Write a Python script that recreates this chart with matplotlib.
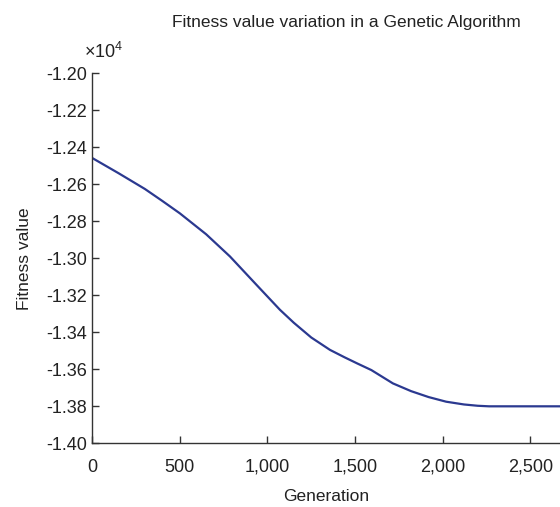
import numpy as np
import matplotlib
matplotlib.use("Agg")
import matplotlib.pyplot as plt
from matplotlib.ticker import FuncFormatter

plt.rcParams['font.family'] = ['Liberation Sans', 'DejaVu Sans']

# Datos (generacion, valor de fitness)
generation = [0, 150, 300, 400, 500, 650, 786, 938, 1071, 1150, 1250, 1357, 1440, 1512, 1593, 1716, 1820, 1920, 2020, 2122, 2200, 2265, 2400, 2670]
fitness = [-12458, -12540, -12625, -12690, -12757, -12870, -12990, -13144, -13278, -13348, -13428, -13495, -13535, -13568, -13604, -13676, -13718, -13750, -13775, -13790, -13797, -13800, -13800, -13800]

y_ticks = [-1.40, -1.38, -1.36, -1.34, -1.32, -1.30, -1.28, -1.26, -1.24, -1.22, -1.20]
x_ticks = [0, 500, 1000, 1500, 2000, 2500]
scale = 1e4

fig = plt.figure(figsize=(5.6, 5.07), dpi=100)
ax = fig.add_axes([0.1648, 0.1256, 1.0 - 0.1648, 0.8554 - 0.1256])

ax.plot(generation, np.array(fitness) / scale, color='#2b3990', linewidth=1.6)

ax.set_xlim(0, 2670)
ax.set_ylim(-1.40, -1.20)
ax.set_xticks(x_ticks)
ax.set_yticks(y_ticks)
ax.xaxis.set_major_formatter(FuncFormatter(lambda v, p: f"{int(v):,}"))
ax.yaxis.set_major_formatter(FuncFormatter(lambda v, p: f"{v:.2f}"))

for s in ['top', 'right']:
    ax.spines[s].set_visible(False)
for s in ['left', 'bottom']:
    ax.spines[s].set_color('#333333')
    ax.spines[s].set_linewidth(1.0)

ax.tick_params(direction='in', length=5, width=1.0, color='#333333',
               labelsize=13, labelcolor='#222222')
ax.tick_params(axis='y', pad=4)
ax.tick_params(axis='x', pad=11)

ax.set_xlabel('Generation', fontsize=12.5, color='#222222', labelpad=10)
ax.set_ylabel('Fitness value', fontsize=12.5, color='#222222', labelpad=10)

fig.text(346 / 560, 1 - 22 / 507, 'Fitness value variation in a Genetic Algorithm',
         ha='center', va='center', fontsize=12.5, color='#222222')
fig.text(104 / 560, 1 - 52 / 507, r'$\mathregular{\times 10^4}$',
         ha='center', va='center', fontsize=13, color='#222222')

fig.savefig('out.png', dpi=100)
